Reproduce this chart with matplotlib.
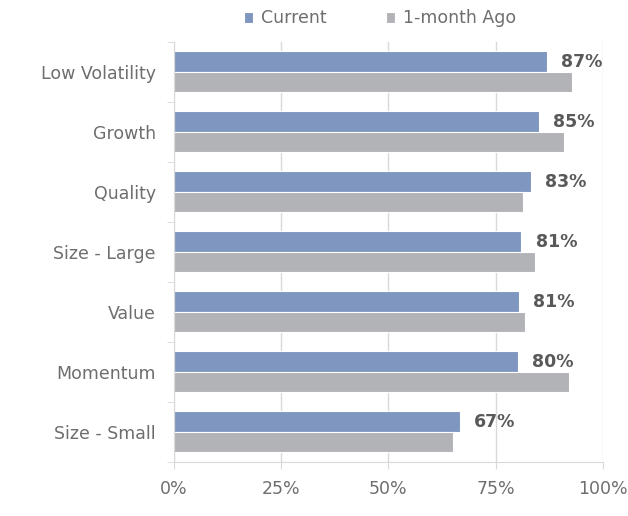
import matplotlib.pyplot as plt
import numpy as np

# data, top to bottom
categories = ["Low Volatility", "Growth", "Quality", "Size - Large", "Value", "Momentum", "Size - Small"]
current = [87, 85, 83.2, 81, 80.4, 80.2, 66.7]
month_ago = [92.8, 90.9, 81.4, 84.1, 81.8, 92.1, 65.0]
labels = ["87%", "85%", "83%", "81%", "81%", "80%", "67%"]

plt.rcParams["font.family"] = ["DejaVu Sans"]

fig = plt.figure(figsize=(6.28, 5.16), dpi=100)
ax = fig.add_axes([0.277, 0.105, 0.683, 0.814])

y = np.arange(len(categories))
h = 0.34
c_cur = "#7F96C0"
c_ago = "#B2B3B6"
txt = "#6E6E6E"

ax.barh(y - h / 2, current, height=h, color=c_cur, edgecolor="white", linewidth=0.8,
        label="Current", zorder=2)
ax.barh(y + h / 2, month_ago, height=h, color=c_ago, edgecolor="white", linewidth=0.8,
        label="1-month Ago", zorder=2)

for yi, v, lab in zip(y, current, labels):
    ax.text(v + 3.3, yi - h / 2, lab, va="center", ha="left",
            fontsize=12.5, fontweight="bold", color="#595959")

ax.set_xlim(0, 100)
ax.set_ylim(len(categories) - 0.5, -0.5)
ax.set_xticks([0, 25, 50, 75, 100])
ax.set_xticklabels(["0%", "25%", "50%", "75%", "100%"])
ax.set_yticks(y)
ax.set_yticklabels(categories)
ax.set_yticks(np.arange(-0.5, len(categories)), minor=True)

ax.grid(axis="x", color="#D9D9D9", linewidth=1, zorder=0)
for s in ["top", "right"]:
    ax.spines[s].set_visible(False)
for s in ["left", "bottom"]:
    ax.spines[s].set_color("#D9D9D9")

ax.tick_params(axis="x", colors="#D9D9D9", labelcolor=txt, labelsize=12.5, length=5, pad=8)
ax.tick_params(axis="y", which="major", length=0, labelcolor=txt, labelsize=12.5, pad=13)
ax.tick_params(axis="y", which="minor", length=5, color="#D9D9D9")

fig.legend(loc="upper center", bbox_to_anchor=(0.605, 1.012), ncol=2, frameon=False,
           fontsize=12.5, labelcolor=txt, handlelength=0.55, handleheight=0.55,
           columnspacing=3.4, handletextpad=0.45)

fig.savefig("out.png", dpi=100)
